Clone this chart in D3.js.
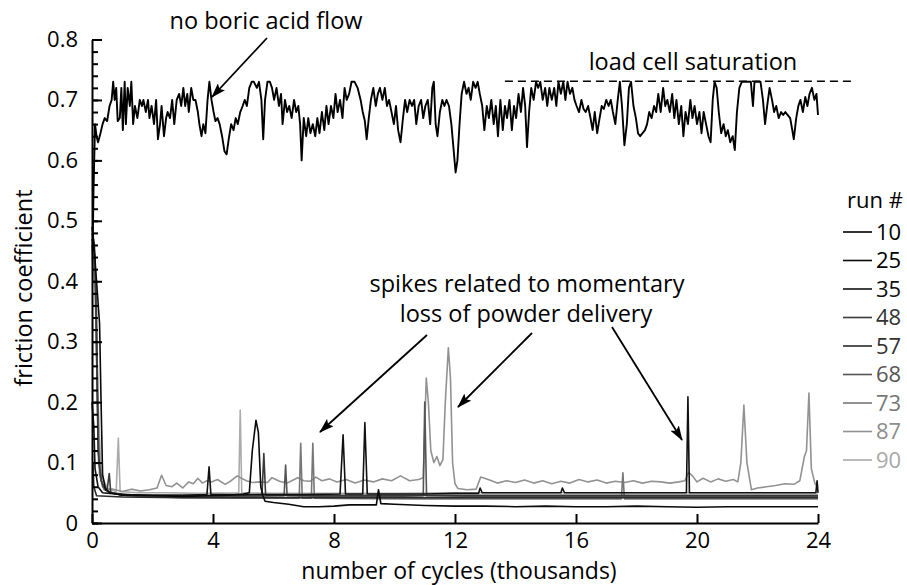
<!DOCTYPE html>
<html>
<head>
<meta charset="utf-8">
<script src="https://cdn.jsdelivr.net/npm/d3@7/dist/d3.min.js"></script>
<style>
  html, body { margin: 0; padding: 0; background: #fff; }
  svg text { font-family: "Open Sans", "Noto Sans", sans-serif; }
</style>
</head>
<body>
<svg id="chart" width="907" height="585"></svg>
<script>
// ---- data (x in thousands of cycles, y = friction coefficient) ----
const runNames = ["10","25","35","48","57","68","73","87","90"];
const runColors = ["#000000","#0a0a0a","#111111","#3a3a3a","#2a2a2a","#555555","#777777","#929292","#ababab"];
const labelColors = ["#000000","#000000","#111111","#333333","#333333","#555555","#777777","#8e8e8e","#a8a8a8"];

const run10 = [[0.02,0.45],[0.05,0.55],[0.1,0.66],[0.15,0.64],[0.2,0.63],[0.28,0.645],[0.35,0.66],[0.42,0.67],[0.5,0.665],[0.58,0.69],[0.65,0.70],[0.7,0.73],[0.75,0.70],[0.8,0.72],[0.85,0.665],[0.92,0.67],[0.97,0.72],[1.02,0.65],[1.08,0.73],[1.12,0.66],[1.18,0.72],[1.25,0.69],[1.3,0.73],[1.36,0.66],[1.42,0.69],[1.5,0.67],[1.58,0.70],[1.65,0.69],[1.7,0.70],[1.78,0.68],[1.85,0.70],[1.9,0.67],[1.97,0.69],[2.05,0.66],[2.12,0.70],[2.18,0.635],[2.25,0.66],[2.3,0.69],[2.38,0.64],[2.45,0.67],[2.5,0.68],[2.58,0.67],[2.65,0.70],[2.72,0.66],[2.8,0.70],[2.88,0.71],[2.95,0.69],[3.02,0.72],[3.08,0.69],[3.15,0.71],[3.2,0.68],[3.28,0.72],[3.35,0.70],[3.42,0.70],[3.5,0.68],[3.55,0.66],[3.62,0.64],[3.68,0.66],[3.75,0.645],[3.82,0.70],[3.88,0.73],[3.95,0.70],[4.02,0.68],[4.08,0.665],[4.15,0.67],[4.22,0.66],[4.3,0.64],[4.38,0.615],[4.45,0.61],[4.52,0.635],[4.6,0.66],[4.68,0.65],[4.75,0.67],[4.82,0.66],[4.9,0.68],[4.98,0.69],[5.05,0.70],[5.12,0.69],[5.2,0.72],[5.28,0.73],[5.35,0.73],[5.45,0.72],[5.52,0.73],[5.6,0.70],[5.66,0.635],[5.72,0.70],[5.8,0.73],[5.88,0.73],[5.95,0.72],[6.02,0.70],[6.1,0.72],[6.18,0.69],[6.25,0.71],[6.3,0.66],[6.38,0.70],[6.45,0.68],[6.52,0.69],[6.6,0.67],[6.68,0.70],[6.75,0.68],[6.82,0.69],[6.88,0.66],[6.93,0.60],[7.0,0.67],[7.08,0.64],[7.15,0.67],[7.22,0.645],[7.3,0.66],[7.38,0.64],[7.45,0.67],[7.52,0.645],[7.6,0.68],[7.68,0.65],[7.75,0.69],[7.82,0.66],[7.9,0.69],[7.98,0.67],[8.05,0.71],[8.12,0.68],[8.2,0.70],[8.28,0.67],[8.35,0.72],[8.42,0.70],[8.5,0.71],[8.58,0.73],[8.68,0.73],[8.78,0.72],[8.88,0.70],[8.95,0.68],[9.02,0.665],[9.08,0.635],[9.15,0.67],[9.22,0.70],[9.3,0.72],[9.38,0.69],[9.45,0.71],[9.52,0.72],[9.6,0.70],[9.68,0.72],[9.75,0.69],[9.82,0.70],[9.9,0.68],[9.98,0.66],[10.05,0.69],[10.12,0.65],[10.2,0.63],[10.28,0.67],[10.35,0.70],[10.42,0.68],[10.5,0.70],[10.58,0.69],[10.65,0.70],[10.72,0.66],[10.8,0.69],[10.88,0.70],[10.95,0.67],[11.02,0.69],[11.1,0.70],[11.18,0.66],[11.25,0.72],[11.3,0.73],[11.36,0.66],[11.42,0.64],[11.5,0.68],[11.58,0.70],[11.65,0.69],[11.72,0.70],[11.8,0.69],[11.88,0.66],[11.95,0.62],[12.02,0.58],[12.08,0.60],[12.15,0.66],[12.22,0.71],[12.3,0.73],[12.38,0.71],[12.45,0.72],[12.52,0.70],[12.6,0.73],[12.68,0.72],[12.75,0.73],[12.82,0.71],[12.9,0.69],[12.97,0.65],[13.05,0.69],[13.12,0.67],[13.2,0.70],[13.28,0.66],[13.35,0.69],[13.42,0.64],[13.5,0.70],[13.58,0.65],[13.65,0.69],[13.72,0.67],[13.8,0.70],[13.88,0.65],[13.95,0.69],[14.02,0.67],[14.1,0.71],[14.18,0.68],[14.25,0.72],[14.32,0.69],[14.38,0.622],[14.45,0.68],[14.52,0.72],[14.6,0.70],[14.68,0.73],[14.75,0.72],[14.82,0.73],[14.9,0.70],[14.98,0.72],[15.05,0.69],[15.12,0.72],[15.2,0.70],[15.28,0.72],[15.35,0.69],[15.42,0.73],[15.5,0.71],[15.58,0.73],[15.65,0.70],[15.72,0.73],[15.8,0.71],[15.88,0.72],[15.95,0.70],[16.02,0.69],[16.1,0.68],[16.18,0.70],[16.25,0.685],[16.32,0.68],[16.4,0.69],[16.48,0.67],[16.55,0.65],[16.62,0.68],[16.7,0.645],[16.78,0.67],[16.85,0.69],[16.92,0.685],[17.0,0.70],[17.08,0.69],[17.15,0.70],[17.22,0.68],[17.3,0.66],[17.38,0.70],[17.45,0.73],[17.52,0.69],[17.6,0.625],[17.68,0.66],[17.75,0.72],[17.82,0.73],[17.9,0.69],[17.98,0.67],[18.05,0.645],[18.12,0.64],[18.2,0.645],[18.28,0.65],[18.35,0.66],[18.42,0.68],[18.5,0.67],[18.58,0.69],[18.65,0.68],[18.72,0.71],[18.8,0.68],[18.88,0.72],[18.95,0.69],[19.02,0.70],[19.1,0.68],[19.18,0.71],[19.25,0.67],[19.32,0.70],[19.4,0.66],[19.48,0.69],[19.55,0.64],[19.62,0.68],[19.7,0.66],[19.78,0.70],[19.85,0.67],[19.92,0.69],[20.0,0.66],[20.08,0.68],[20.15,0.645],[20.22,0.68],[20.3,0.66],[20.38,0.64],[20.45,0.63],[20.52,0.70],[20.58,0.73],[20.65,0.72],[20.72,0.68],[20.8,0.645],[20.88,0.66],[20.95,0.64],[21.02,0.65],[21.1,0.63],[21.18,0.64],[21.25,0.617],[21.32,0.68],[21.4,0.72],[21.48,0.73],[21.58,0.73],[21.68,0.73],[21.78,0.73],[21.85,0.69],[21.9,0.73],[22.0,0.73],[22.1,0.73],[22.18,0.70],[22.25,0.66],[22.32,0.69],[22.4,0.72],[22.48,0.70],[22.55,0.68],[22.62,0.69],[22.7,0.67],[22.78,0.68],[22.85,0.675],[22.92,0.68],[23.0,0.675],[23.08,0.67],[23.15,0.65],[23.2,0.635],[23.28,0.67],[23.35,0.69],[23.42,0.70],[23.5,0.68],[23.58,0.705],[23.65,0.69],[23.72,0.71],[23.8,0.72],[23.88,0.70],[23.95,0.71],[24.0,0.675]];

const run25 = [[0,0.49],[0.05,0.47],[0.15,0.40],[0.25,0.33],[0.3,0.2],[0.35,0.08],[0.45,0.055],[0.6,0.05],[1.0,0.046],[2.0,0.045],[3.0,0.044],[4.0,0.045],[4.5,0.046],[5.0,0.048],[5.2,0.05],[5.3,0.12],[5.42,0.17],[5.5,0.15],[5.58,0.06],[5.65,0.045],[5.72,0.036],[6.0,0.034],[6.5,0.031],[7.0,0.027],[7.5,0.027],[8.0,0.028],[8.5,0.030],[9.0,0.030],[9.4,0.030],[9.47,0.055],[9.55,0.032],[10,0.031],[11,0.029],[12,0.028],[13,0.028],[14,0.027],[15,0.028],[16,0.027],[17,0.027],[18,0.028],[19,0.027],[20,0.026],[21,0.027],[22,0.027],[23,0.027],[24,0.027]];

const run35 = [[0,0.2],[0.06,0.16],[0.1,0.09],[0.2,0.06],[0.35,0.05],[1,0.047],[2,0.046],[3,0.046],[3.8,0.047],[3.87,0.093],[3.93,0.047],[5,0.047],[6,0.047],[7,0.047],[8.2,0.048],[8.3,0.146],[8.38,0.048],[8.95,0.048],[9.02,0.166],[9.1,0.048],[10,0.048],[11,0.048],[12,0.049],[12.78,0.049],[12.83,0.058],[12.9,0.05],[14,0.05],[15.5,0.05],[15.55,0.058],[15.62,0.05],[17,0.05],[18,0.05],[19.65,0.05],[19.7,0.209],[19.75,0.05],[21,0.05],[22,0.05],[23,0.05],[23.93,0.05],[23.97,0.07],[24,0.05]];

const run48 = [[0,0.47],[0.1,0.44],[0.15,0.3],[0.2,0.12],[0.3,0.07],[0.4,0.06],[0.5,0.055],[0.57,0.082],[0.62,0.05],[1,0.047],[2,0.046],[3,0.046],[4,0.046],[5,0.046],[5.62,0.047],[5.68,0.115],[5.74,0.046],[7,0.046],[9,0.046],[11,0.046],[13,0.046],[15,0.046],[17,0.046],[19,0.046],[21,0.046],[23,0.046],[24,0.046]];

const run57 = [[0,0.1],[0.03,0.1],[0.06,0.06],[0.15,0.045],[1,0.043],[3,0.042],[5,0.042],[7,0.042],[9,0.042],[11,0.042],[13,0.042],[15,0.042],[17,0.042],[19,0.042],[21,0.042],[23,0.042],[24,0.042]];

const run68 = [[0,0.48],[0.08,0.46],[0.15,0.35],[0.22,0.1],[0.35,0.06],[0.6,0.05],[1.5,0.046],[3,0.045],[5,0.044],[6.35,0.045],[6.4,0.096],[6.45,0.045],[8,0.044],[10,0.044],[10.95,0.045],[11.0,0.20],[11.06,0.045],[13,0.044],[15,0.044],[17,0.044],[19,0.044],[21,0.044],[23,0.044],[24,0.044]];

const run73 = [[0,0.46],[0.1,0.42],[0.18,0.2],[0.25,0.08],[0.4,0.055],[1,0.045],[3,0.042],[5,0.041],[6.85,0.041],[6.9,0.132],[6.95,0.041],[7.25,0.041],[7.3,0.132],[7.35,0.041],[9,0.04],[11,0.04],[13,0.04],[15,0.04],[17.5,0.04],[17.55,0.083],[17.6,0.04],[19,0.04],[21,0.04],[23,0.04],[24,0.04]];

const run87 = [[0,0.45],[0.1,0.4],[0.2,0.15],[0.3,0.07],[0.4,0.055],[0.7,0.056],[1.0,0.052],[1.3,0.056],[1.6,0.053],[1.9,0.055],[2.15,0.058],[2.3,0.079],[2.45,0.062],[2.65,0.06],[2.8,0.066],[3.0,0.058],[3.2,0.068],[3.35,0.065],[3.5,0.074],[3.65,0.066],[3.8,0.07],[3.95,0.068],[4.15,0.072],[4.4,0.064],[4.6,0.07],[4.8,0.078],[5.1,0.07],[5.3,0.067],[5.55,0.068],[5.8,0.067],[5.95,0.075],[6.2,0.069],[6.45,0.066],[6.6,0.07],[6.8,0.075],[7.0,0.07],[7.2,0.069],[7.4,0.076],[7.6,0.07],[7.85,0.073],[8.1,0.068],[8.4,0.072],[8.7,0.066],[9.0,0.071],[9.3,0.068],[9.6,0.073],[9.9,0.07],[10.2,0.078],[10.5,0.07],[10.8,0.072],[10.95,0.075],[11.05,0.24],[11.12,0.2],[11.2,0.12],[11.3,0.10],[11.4,0.11],[11.5,0.095],[11.6,0.105],[11.68,0.2],[11.78,0.29],[11.85,0.24],[11.92,0.1],[12.0,0.065],[12.1,0.057],[12.4,0.055],[12.7,0.056],[12.85,0.076],[13.1,0.072],[13.4,0.066],[13.7,0.07],[14.0,0.067],[14.3,0.071],[14.6,0.066],[14.9,0.07],[15.2,0.065],[15.5,0.069],[15.8,0.066],[16.1,0.072],[16.4,0.068],[16.7,0.071],[17.0,0.066],[17.3,0.069],[17.6,0.067],[17.9,0.07],[18.2,0.066],[18.5,0.069],[18.8,0.068],[19.1,0.066],[19.4,0.068],[19.6,0.07],[19.72,0.084],[19.85,0.078],[20.0,0.068],[20.2,0.074],[20.45,0.068],[20.7,0.073],[20.95,0.069],[21.2,0.072],[21.35,0.068],[21.45,0.1],[21.55,0.195],[21.65,0.1],[21.8,0.055],[22.0,0.058],[22.3,0.06],[22.6,0.062],[22.9,0.065],[23.2,0.064],[23.4,0.07],[23.55,0.11],[23.62,0.12],[23.7,0.215],[23.78,0.09],[23.9,0.065],[24,0.06]];

const run90 = [[0,0.44],[0.12,0.38],[0.2,0.2],[0.3,0.08],[0.5,0.058],[0.8,0.052],[0.87,0.14],[0.93,0.052],[1.5,0.05],[2.5,0.05],[3.5,0.049],[4.85,0.05],[4.9,0.187],[4.95,0.05],[6,0.049],[8,0.049],[10,0.049],[12,0.05],[14,0.05],[16,0.05],[18,0.05],[20,0.05],[22,0.05],[24,0.05]];

const runData = [run10, run25, run35, run48, run57, run68, run73, run87, run90];

const xTickValues = [0, 4, 8, 12, 16, 20, 24];
const xTickLabels = ["0", "4", "8", "12", "16", "20", "24"];
const yTickValues = [0, 0.1, 0.2, 0.3, 0.4, 0.5, 0.6, 0.7, 0.8];
const yTickLabels = ["0", "0.1", "0.2", "0.3", "0.4", "0.5", "0.6", "0.7", "0.8"];
const yMinorTicks = d3.range(0, 0.801, 0.02);

const saturationLevel = 0.731;
const saturationRange = [13.65, 25.2];

// ---- drawing ----
const svg = d3.select("#chart");
svg.append("rect").attr("width", 907).attr("height", 585).attr("fill", "#fff");

const x = d3.scaleLinear().domain([0, 24]).range([92, 818]);
const y = d3.scaleLinear().domain([0, 0.8]).range([523, 39.5]);

const defs = svg.append("defs");
defs.append("marker").attr("id", "arrow")
  .attr("viewBox", "0 -5 15 10").attr("refX", 14).attr("refY", 0)
  .attr("markerWidth", 15).attr("markerHeight", 10)
  .attr("markerUnits", "userSpaceOnUse").attr("orient", "auto")
  .append("path").attr("d", "M0,-5L15,0L0,5L3,0Z").attr("fill", "#000");

const line = d3.line().x(d => x(d[0])).y(d => y(d[1]));

// series, lightest first so darker ones sit on top
const order = d3.range(runData.length).reverse();
svg.append("g").selectAll("path").data(order).join("path")
  .attr("d", i => line(runData[i]))
  .attr("fill", "none")
  .attr("stroke", i => runColors[i])
  .attr("stroke-width", i => i === 0 ? 1.9 : 1.6)
  .attr("stroke-linejoin", "round");

// saturation dashed line
svg.append("line")
  .attr("x1", x(saturationRange[0])).attr("x2", x(saturationRange[1]))
  .attr("y1", y(saturationLevel)).attr("y2", y(saturationLevel))
  .attr("stroke", "#000").attr("stroke-width", 1.5)
  .attr("stroke-dasharray", "8,5");

// axes
const xAxis = d3.axisBottom(x).tickValues(xTickValues)
  .tickFormat((d, i) => xTickLabels[i]).tickSizeInner(-9).tickSizeOuter(0).tickPadding(9);
const gx = svg.append("g").attr("transform", "translate(0,523)").call(xAxis);

const yAxis = d3.axisLeft(y).tickValues(yTickValues)
  .tickFormat((d, i) => yTickLabels[i]).tickSizeInner(-10).tickSizeOuter(0).tickPadding(14);
const gy = svg.append("g").attr("transform", "translate(92,0)").call(yAxis);

const yMinor = d3.axisLeft(y).tickValues(yMinorTicks).tickFormat("").tickSizeInner(-6).tickSizeOuter(0);
const gym = svg.append("g").attr("transform", "translate(92,0)").call(yMinor);
gym.select(".domain").remove();

[gx, gy, gym].forEach(g => {
  g.selectAll(".domain").attr("stroke", "#000").attr("stroke-width", 2);
  g.selectAll(".tick line").attr("stroke", "#000").attr("stroke-width", 2);
  g.selectAll(".tick text").attr("font-size", 22).attr("fill", "#000")
    .style("font-family", "'Open Sans', sans-serif");
});

// axis titles
svg.append("text").attr("x", 459).attr("y", 579).attr("text-anchor", "middle")
  .attr("font-size", 23).text("number of cycles (thousands)");
svg.append("text").attr("transform", "translate(32,288) rotate(-90)").attr("text-anchor", "middle")
  .attr("font-size", 23.5).text("friction coefficient");

// annotations
svg.append("text").attr("x", 266).attr("y", 29).attr("text-anchor", "middle")
  .attr("font-size", 23.5).text("no boric acid flow");
svg.append("text").attr("x", 693).attr("y", 70).attr("text-anchor", "middle")
  .attr("font-size", 23.5).text("load cell saturation");
svg.append("text").attr("x", 527).attr("y", 292).attr("text-anchor", "middle")
  .attr("font-size", 23.5).text("spikes related to momentary");
svg.append("text").attr("x", 526).attr("y", 322).attr("text-anchor", "middle")
  .attr("font-size", 23.5).text("loss of powder delivery");

const arrows = [[267, 38, 212, 97], [427, 335, 320, 432], [532, 333, 458, 407], [612, 327, 682, 440]];
svg.append("g").selectAll("line").data(arrows).join("line")
  .attr("x1", d => d[0]).attr("y1", d => d[1]).attr("x2", d => d[2]).attr("y2", d => d[3])
  .attr("stroke", "#000").attr("stroke-width", 1.8).attr("marker-end", "url(#arrow)");

// legend
svg.append("text").attr("x", 847).attr("y", 208).attr("font-size", 22).text("run #");
const leg = svg.append("g").selectAll("g").data(runNames).join("g")
  .attr("transform", (d, i) => `translate(843,${232 + i * 28.5})`);
leg.append("line").attr("x1", 0).attr("x2", 29).attr("y1", 0).attr("y2", 0)
  .attr("stroke", (d, i) => runColors[i]).attr("stroke-width", 1.6);
leg.append("text").attr("x", 33).attr("y", 0).attr("dy", "0.35em").attr("font-size", 22)
  .attr("fill", (d, i) => labelColors[i]).text(d => d);
</script>
</body>
</html>
